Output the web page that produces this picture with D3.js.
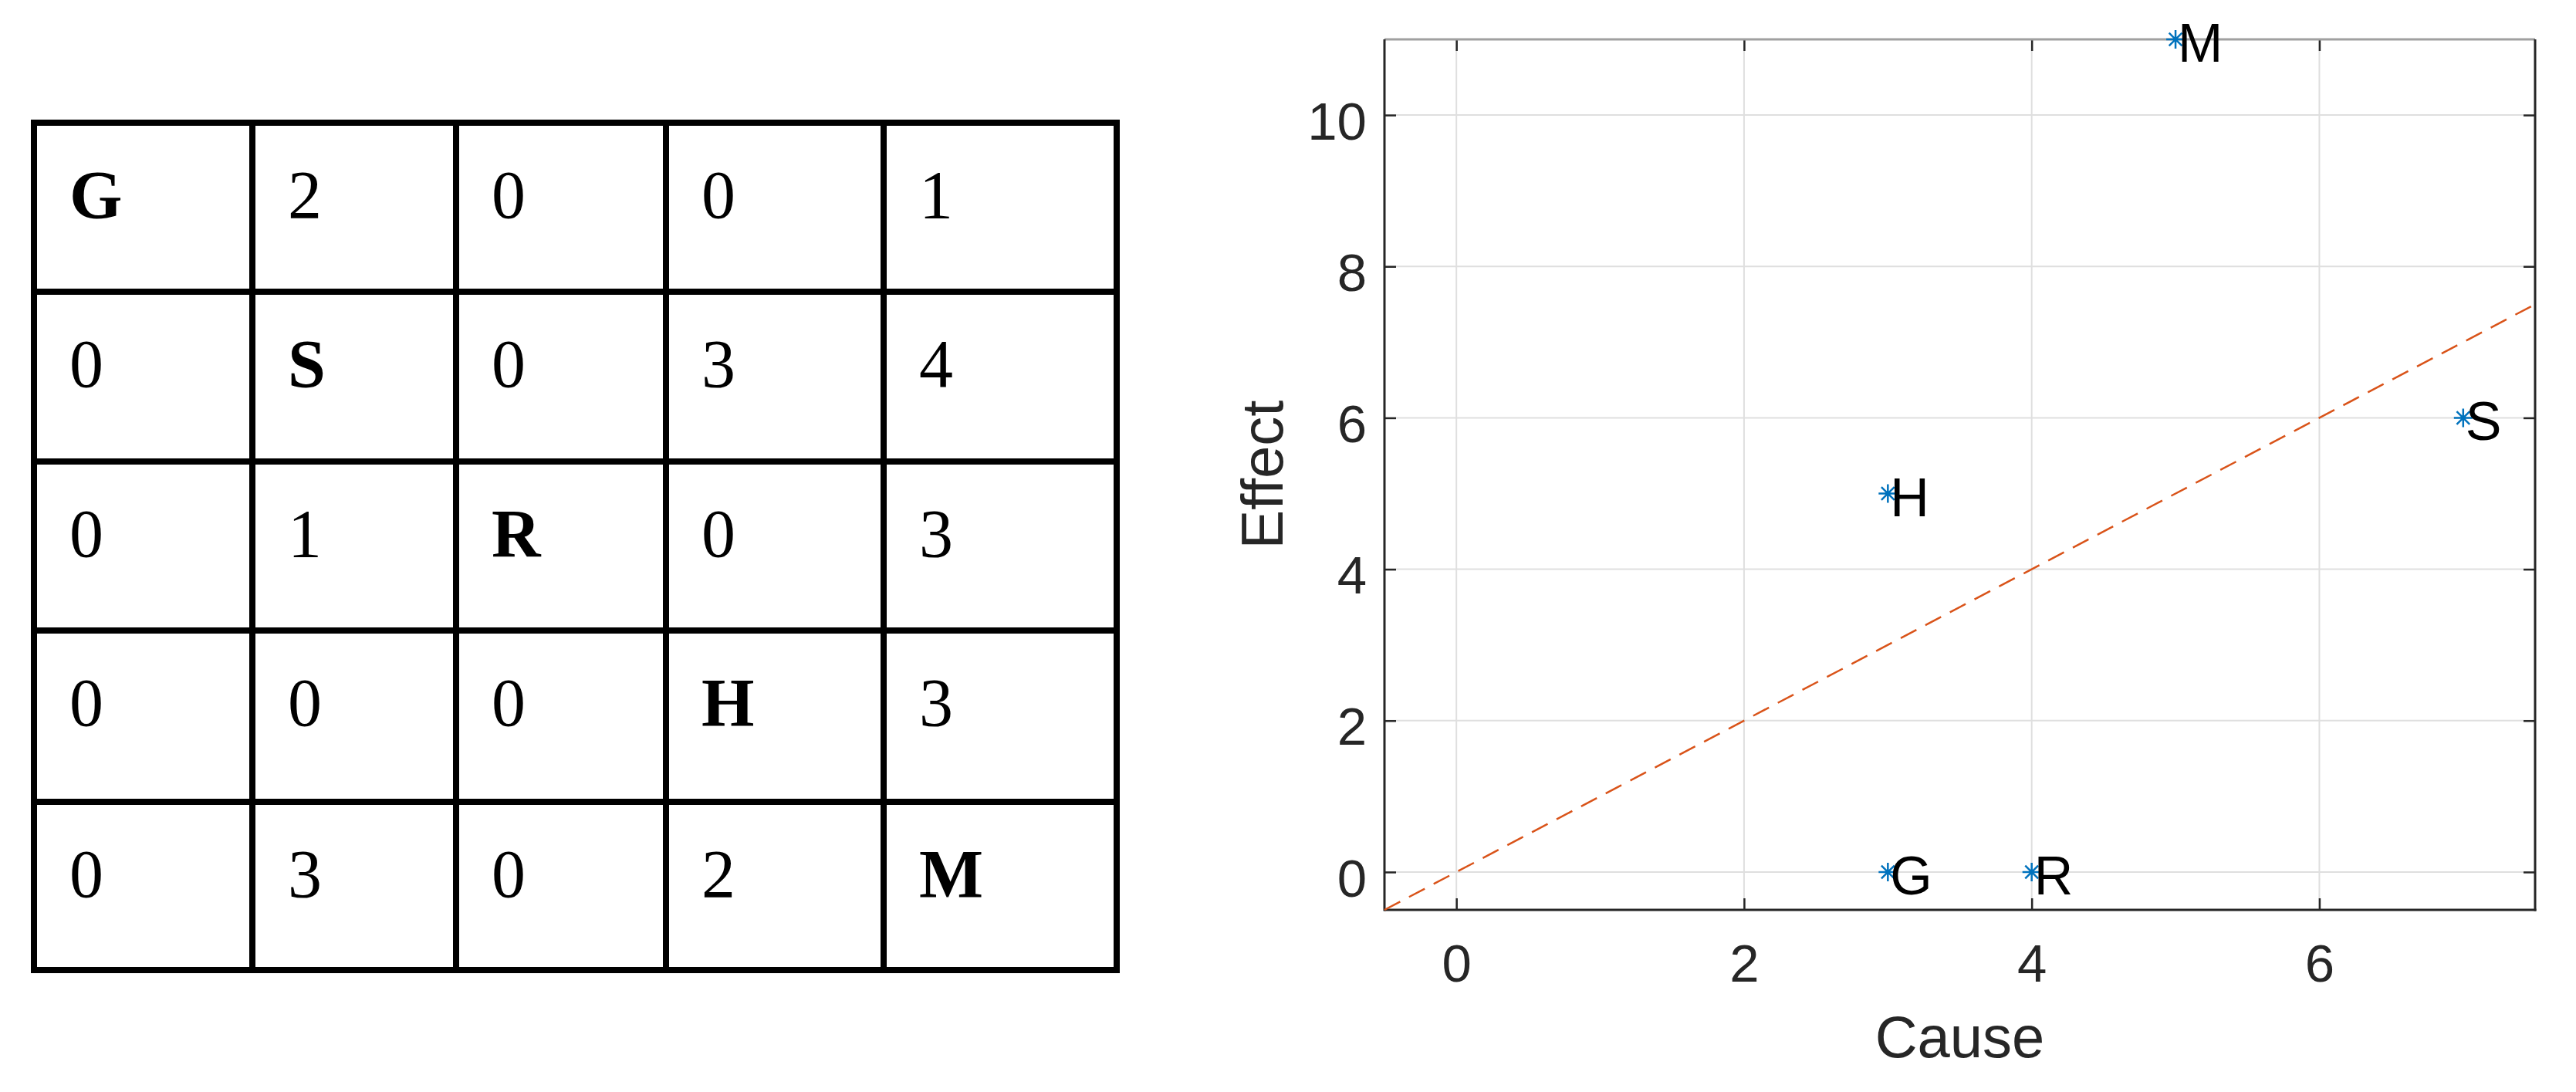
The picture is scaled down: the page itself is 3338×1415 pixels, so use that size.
<!DOCTYPE html>
<html>
<head>
<meta charset="utf-8">
<script src="https://cdn.jsdelivr.net/npm/d3@7"></script>
<style>
  body { margin: 0; background: #fff; }
  svg { display: block; }
</style>
</head>
<body>
<svg id="chart" width="3338" height="1415"></svg>
<script>
// adjacency table (null = diagonal, shows the node letter)
var nodes = ["G", "S", "R", "H", "M"];
var matrix = [
  [null, 2, 0, 0, 1],
  [0, null, 0, 3, 4],
  [0, 1, null, 0, 3],
  [0, 0, 0, null, 3],
  [0, 3, 0, 2, null]
];

// cause / effect scatter
var cause  = [3, 7, 4, 3, 5];
var effect = [0, 6, 0, 5, 11];
var xTicks = [0, 2, 4, 6];
var yTicks = [0, 2, 4, 6, 8, 10];
var refLine = [-0.5, 7.5];

var svg = d3.select("#chart");
svg.append("rect").attr("width", 3338).attr("height", 1415).attr("fill", "#fff");

// ---- table ----
var colX = d3.scaleLinear().domain([0, 1, 2, 3, 4, 5]).range([44, 327, 591, 863, 1145, 1447]);
var rowY = d3.scaleLinear().domain([0, 1, 2, 3, 4, 5]).range([159, 378, 598, 817, 1039, 1257]);

var tbl = svg.append("g");

var cells = [];
matrix.forEach(function(row, i) {
  row.forEach(function(v, j) {
    cells.push({ r: i, c: j, text: v === null ? nodes[i] : String(v), bold: v === null });
  });
});

tbl.selectAll(".cell")
  .data(cells)
  .enter().append("text")
    .attr("class", "cell")
    .attr("x", function(d) { return colX(d.c) + 46; })
    .attr("y", function(d) { return rowY(d.r) + 123; })
    .attr("font-family", "'Liberation Serif', 'DejaVu Serif', serif")
    .attr("font-size", 88)
    .attr("font-weight", function(d) { return d.bold ? "bold" : "normal"; })
    .attr("fill", "#000")
    .text(function(d) { return d.text; });

tbl.selectAll(".vline")
  .data(d3.range(6))
  .enter().append("line")
    .attr("x1", function(d) { return colX(d); })
    .attr("x2", function(d) { return colX(d); })
    .attr("y1", rowY(0) - 4)
    .attr("y2", rowY(5) + 4)
    .attr("stroke", "#000")
    .attr("stroke-width", 8);

tbl.selectAll(".hline")
  .data(d3.range(6))
  .enter().append("line")
    .attr("y1", function(d) { return rowY(d); })
    .attr("y2", function(d) { return rowY(d); })
    .attr("x1", colX(0) - 4)
    .attr("x2", colX(5) + 4)
    .attr("stroke", "#000")
    .attr("stroke-width", 8);

// ---- scatter ----
var pLeft = 1794, pRight = 3285, pTop = 51, pBottom = 1179;
var x = d3.scaleLinear().domain([-0.5, 7.5]).range([pLeft, pRight]);
var y = d3.scaleLinear().domain([-0.5, 11]).range([pBottom, pTop]);

var axisColor = "#262626";
var sans = "'Liberation Sans', Arial, sans-serif";

var g = svg.append("g");

// grid
g.selectAll(".gx")
  .data(xTicks)
  .enter().append("line")
    .attr("x1", function(d) { return x(d); })
    .attr("x2", function(d) { return x(d); })
    .attr("y1", pTop).attr("y2", pBottom)
    .attr("stroke", "#dfdfdf").attr("stroke-width", 2);

g.selectAll(".gy")
  .data(yTicks)
  .enter().append("line")
    .attr("y1", function(d) { return y(d); })
    .attr("y2", function(d) { return y(d); })
    .attr("x1", pLeft).attr("x2", pRight)
    .attr("stroke", "#dfdfdf").attr("stroke-width", 2);

// axes with inward ticks on all four sides
function styleAxis(sel) {
  sel.select(".domain").remove();
  sel.selectAll(".tick line").attr("stroke", axisColor).attr("stroke-width", 2.5);
  sel.selectAll(".tick text")
    .attr("fill", axisColor)
    .attr("font-family", sans)
    .attr("font-size", 69);
}

g.append("g")
    .attr("transform", "translate(0," + pBottom + ")")
    .call(d3.axisBottom(x).tickValues(xTicks).tickSize(-15).tickPadding(44).tickFormat(d3.format("d")))
    .call(styleAxis);

g.append("g")
    .attr("transform", "translate(0," + pTop + ")")
    .call(d3.axisTop(x).tickValues(xTicks).tickSize(-15).tickFormat(""))
    .call(styleAxis);

var yAxisG = g.append("g")
    .attr("transform", "translate(" + pLeft + ",0)")
    .call(d3.axisLeft(y).tickValues(yTicks).tickSize(-15).tickPadding(23).tickFormat(d3.format("d")))
    .call(styleAxis);
yAxisG.selectAll(".tick text").attr("dy", "0.45em");

g.append("g")
    .attr("transform", "translate(" + pRight + ",0)")
    .call(d3.axisRight(y).tickValues(yTicks).tickSize(-15).tickFormat(""))
    .call(styleAxis);

// box
g.append("line").attr("x1", pLeft).attr("x2", pRight).attr("y1", pTop).attr("y2", pTop)
  .attr("stroke", "#a0a0a0").attr("stroke-width", 3);
g.append("line").attr("x1", pLeft).attr("x2", pRight + 1.5).attr("y1", pBottom).attr("y2", pBottom)
  .attr("stroke", axisColor).attr("stroke-width", 3);
g.append("line").attr("x1", pLeft).attr("x2", pLeft).attr("y1", pTop).attr("y2", pBottom + 1.5)
  .attr("stroke", axisColor).attr("stroke-width", 3);
g.append("line").attr("x1", pRight).attr("x2", pRight).attr("y1", pTop).attr("y2", pBottom + 1.5)
  .attr("stroke", axisColor).attr("stroke-width", 3);

// y = x reference
g.append("path")
  .datum(refLine)
  .attr("d", d3.line().x(function(d) { return x(d); }).y(function(d) { return y(d); }))
  .attr("fill", "none")
  .attr("stroke", "#D95319")
  .attr("stroke-width", 2.5)
  .attr("stroke-dasharray", "23,13");

// asterisk markers
var points = nodes.map(function(n, i) { return { name: n, cx: cause[i], ef: effect[i] }; });
var r = 12, d = r * 0.7;
var star = "M" + (-r) + ",0L" + r + ",0M0," + (-r) + "L0," + r +
           "M" + (-d) + "," + (-d) + "L" + d + "," + d +
           "M" + (-d) + "," + d + "L" + d + "," + (-d);

g.selectAll(".pt")
  .data(points)
  .enter().append("path")
    .attr("class", "pt")
    .attr("transform", function(p) { return "translate(" + x(p.cx) + "," + y(p.ef) + ")"; })
    .attr("d", star)
    .attr("fill", "none")
    .attr("stroke", "#0072BD")
    .attr("stroke-width", 2.5);

g.selectAll(".lbl")
  .data(points)
  .enter().append("text")
    .attr("class", "lbl")
    .attr("x", function(p) { return x(p.cx) + 3; })
    .attr("y", function(p) { return y(p.ef) + 29; })
    .attr("font-family", sans)
    .attr("font-size", 70)
    .attr("fill", "#000")
    .text(function(p) { return p.name; });

// axis titles
svg.append("text")
  .attr("x", (pLeft + pRight) / 2)
  .attr("y", 1370)
  .attr("text-anchor", "middle")
  .attr("font-family", sans)
  .attr("font-size", 76)
  .attr("fill", axisColor)
  .text("Cause");

svg.append("text")
  .attr("transform", "translate(1662," + (pTop + pBottom) / 2 + ") rotate(-90)")
  .attr("text-anchor", "middle")
  .attr("font-family", sans)
  .attr("font-size", 76)
  .attr("fill", axisColor)
  .text("Effect");
</script>
</body>
</html>
